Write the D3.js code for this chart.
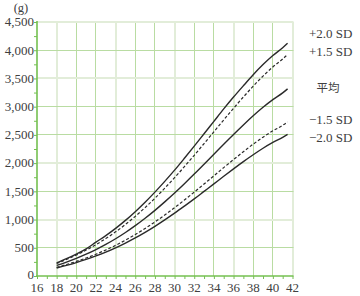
<!DOCTYPE html>
<html><head><meta charset="utf-8">
<script src="https://cdn.jsdelivr.net/npm/d3@7"></script>
<style>html,body{margin:0;padding:0;background:#fff;}svg{display:block;}
text.serif{font-family:"Liberation Serif","Times New Roman","DejaVu Serif",serif;}
text.cjk{font-family:"Noto Sans CJK JP","Noto Sans CJK SC",sans-serif;}
</style>
</head><body>
<svg id="c" width="360" height="296"></svg>
<script>
// ---- data ----
const weeks   = [18,19,20,21,22,23,24,25,26,27,28,29,30,31,32,33,34,35,36,37,38,39,40,41,41.5];
const plus20  = [233,307,389,481,600,715,843,985,1140,1307,1486,1676,1875,2085,2300,2520,2740,2960,3170,3370,3565,3745,3905,4045,4125];
const plus15  = [222,293,371,459,556,664,782,914,1057,1212,1378,1556,1742,1937,2139,2346,2555,2765,2971,3171,3363,3542,3703,3844,3925];
const mean    = [187,247,313,387,469,560,660,771,892,1023,1163,1313,1470,1635,1805,1980,2156,2333,2507,2676,2838,2989,3125,3244,3315];
const minus15 = [154,203,258,318,386,461,543,635,734,842,957,1081,1210,1346,1486,1630,1774,1920,2063,2202,2336,2460,2572,2670,2730];
const minus20 = [142,187,237,293,355,424,500,584,675,774,880,994,1113,1238,1366,1499,1632,1766,1898,2026,2148,2263,2366,2456,2510];
const xTicks  = [16,18,20,22,24,26,28,30,32,34,36,38,40,42];
const yTicks  = [0,500,1000,1500,2000,2500,3000,3500,4000,4500];
const seriesNames = ["+2.0 SD","+1.5 SD","平均","\u22121.5 SD","\u22122.0 SD"];
const unitLabel = "(g)";

// ---- layout / style ----
const svg = d3.select("#c");
const x = d3.scaleLinear().domain([16,42]).range([37,292.5]);
const y = d3.scaleLinear().domain([0,4500]).range([276,22]);
const axisColor = "#74c050", gridDark = "#b9dca2", gridLight = "#e2edd9";
const lightV = new Set([18,24,30,36,42]);
const lightH = new Set([4500,3500,2000,1000]);
const textColor = "#404040";

const g = svg.append("g");
xTicks.filter(d => d > 16).forEach(d => {
  const light = lightV.has(d);
  const px = light ? Math.round(x(d)) : Math.floor(x(d)) + 0.5;
  g.append("line").attr("x1",px).attr("x2",px).attr("y1",y(4500)).attr("y2",y(0))
    .attr("stroke", light ? gridLight : gridDark).attr("stroke-width", light ? 2 : 1);
});
yTicks.filter(d => d > 0).forEach(d => {
  const light = lightH.has(d);
  const py = light ? Math.round(y(d)) : Math.floor(y(d)) + 0.5;
  g.append("line").attr("x1",x(16)).attr("x2",x(42)+1).attr("y1",py).attr("y2",py)
    .attr("stroke", light ? gridLight : gridDark).attr("stroke-width", light ? 2 : 1);
});

// y axis
const yAxis = d3.axisLeft(y).tickValues(d3.range(0,4501,250)).tickSize(3).tickFormat("");
const ya = svg.append("g").attr("transform",`translate(${x(16)},0)`).call(yAxis);
ya.select(".domain").remove();
ya.selectAll("line").attr("stroke",axisColor);
svg.append("line").attr("x1",x(16)).attr("x2",x(16)).attr("y1",y(4500)-1).attr("y2",y(0)+1)
  .attr("stroke",axisColor).attr("stroke-width",1.6);
// x axis
const xAxis = d3.axisBottom(x).tickValues(d3.range(16,43,1)).tickSize(3).tickFormat("");
const xa = svg.append("g").attr("transform",`translate(0,${y(0)})`).call(xAxis);
xa.select(".domain").remove();
xa.selectAll("line").attr("stroke",axisColor);
svg.append("line").attr("x1",x(16)-1).attr("x2",x(42)+1).attr("y1",y(0)).attr("y2",y(0))
  .attr("stroke",axisColor).attr("stroke-width",1.6);

// labels
svg.selectAll("text.yl").data(yTicks).enter().append("text").attr("class","serif")
  .attr("x",34).attr("y",d => y(d) + 4.3 - (d === 0 ? 1 : 0)).attr("text-anchor","end")
  .attr("font-size",13).attr("fill",textColor)
  .text(d => d3.format(",")(d));
svg.selectAll("text.xl").data(xTicks).enter().append("text").attr("class","serif")
  .attr("x",d => x(d)).attr("y",292).attr("text-anchor","middle")
  .attr("font-size",13).attr("fill",textColor)
  .text(d => d);
svg.append("text").attr("class","serif").attr("x",21).attr("y",12).attr("text-anchor","middle")
  .attr("font-size",12.5).attr("fill",textColor).text(unitLabel);

// curves
const series = [plus20, plus15, mean, minus15, minus20];
const dashed = [false,true,false,true,false];
const line = d3.line().x((d,i) => x(weeks[i])).y(d => y(d)).curve(d3.curveMonotoneX);
series.forEach((s,k) => {
  svg.append("path").attr("d", line(s)).attr("fill","none")
    .attr("stroke","#2a2a2a").attr("stroke-width", dashed[k] ? 1.2 : 1.4)
    .attr("stroke-dasharray", dashed[k] ? "3,2" : null);
});

// right labels
const labelY = [33.5, 51.5, 87.5, 120, 138];
seriesNames.forEach((t,k) => {
  const isMean = t === "平均";
  svg.append("text").attr("class", isMean ? "cjk" : "serif")
    .attr("x", isMean ? 328 : 309).attr("y", labelY[k] + (isMean ? 4 : 4.3))
    .attr("text-anchor", isMean ? "middle" : "start")
    .attr("font-size", isMean ? 11.5 : 13).attr("fill",textColor)
    .text(t);
});
</script>
</body></html>
